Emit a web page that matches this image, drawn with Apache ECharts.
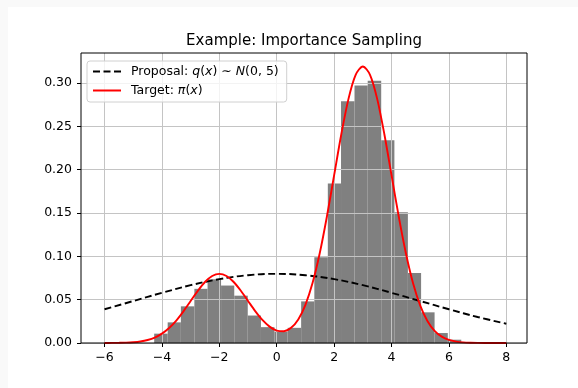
<!DOCTYPE html>
<html>
<head>
<meta charset="utf-8">
<script src="https://cdn.jsdelivr.net/npm/echarts@6/dist/echarts.min.js"></script>
<style>
  html, body { margin: 0; padding: 0; background: #fff; }
  #chart { width: 578px; height: 388px; }
</style>
</head>
<body>
<div id="chart"></div>
<script>
// histogram bins (edges) and heights
var binEdges = [-4.27, -3.80, -3.34, -2.87, -2.41, -1.94, -1.48, -1.01, -0.55, -0.08,
    0.38, 0.85, 1.31, 1.78, 2.24, 2.71, 3.17, 3.64, 4.10, 4.57, 5.03, 5.50, 5.96, 6.43];
var binHeights = [0.0108, 0.0238, 0.0423, 0.0625, 0.0735, 0.0663, 0.0546, 0.0317, 0.0183, 0.0130,
    0.0175, 0.0480, 0.0988, 0.1840, 0.2790, 0.2970, 0.3027, 0.2340, 0.1510, 0.0808,
    0.0354, 0.0115, 0.0038];

// proposal q(x), dashed
var proposalX = [-6, -5, -4, -3, -2, -1, 0, 1, 2, 3, 4, 5, 6, 7, 8];
var proposalY = [0.0389, 0.0484, 0.0579, 0.0667, 0.0737, 0.0782, 0.0798, 0.0782, 0.0737, 0.0667,
    0.0579, 0.0484, 0.0389, 0.0300, 0.0222];

// target pi(x), red
var targetX = [-6, -5.75, -5.5, -5.25, -5, -4.75, -4.5, -4.25, -4, -3.75, -3.5, -3.25, -3, -2.75,
    -2.5, -2.25, -2, -1.75, -1.5, -1.25, -1, -0.75, -0.5, -0.25, 0, 0.25, 0.5, 0.75, 1, 1.25,
    1.5, 1.75, 2, 2.25, 2.5, 2.75, 3, 3.25, 3.5, 3.75, 4, 4.25, 4.5, 4.75, 5, 5.25, 5.5, 5.75,
    6, 6.25, 6.5, 6.75, 7, 7.25, 7.5, 7.75, 8];
var targetY = [0.0000, 0.0001, 0.0002, 0.0004, 0.0009, 0.0018, 0.0035, 0.0063, 0.0108, 0.0173,
    0.0259, 0.0365, 0.0484, 0.0602, 0.0704, 0.0773, 0.0798, 0.0773, 0.0704, 0.0603,
    0.0485, 0.0368, 0.0266, 0.0189, 0.0143, 0.0136, 0.0175, 0.0272, 0.0441, 0.0694,
    0.1038, 0.1462, 0.1936, 0.2409, 0.2817, 0.3094, 0.3191, 0.3094, 0.2817, 0.2409,
    0.1936, 0.1461, 0.1036, 0.0690, 0.0432, 0.0254, 0.0140, 0.0073, 0.0035, 0.0016,
    0.0007, 0.0003, 0.0001, 0.0000, 0.0000, 0.0000, 0.0000];

var xTicks = [-6, -4, -2, 0, 2, 4, 6, 8];
var yTicks = [0, 0.05, 0.10, 0.15, 0.20, 0.25, 0.30];

var FONT = 'DejaVu Sans';

var bars = [];
for (var i = 0; i < binHeights.length; i++) {
    bars.push([binEdges[i], binEdges[i + 1], binHeights[i]]);
}
function pairs(xs, ys) {
    return xs.map(function (x, k) { return [x, ys[k]]; });
}

var chart = echarts.init(document.getElementById('chart'));

var option = {
    backgroundColor: '#ffffff',
    animation: false,
    textStyle: { fontFamily: FONT },
    graphic: [
        { type: 'rect', shape: { x: 0, y: 0, width: 8, height: 388 }, style: { fill: '#f9f9f9' }, silent: true, z: -10 },
        { type: 'rect', shape: { x: 0, y: 0, width: 578, height: 7 }, style: { fill: '#f9f9f9' }, silent: true, z: -10 },
        {
            type: 'text', x: 304, y: 41, z: 10,
            style: {
                text: 'Example: Importance Sampling',
                fontFamily: FONT, fontSize: 15, fill: '#000',
                textAlign: 'center', textVerticalAlign: 'middle'
            }
        }
    ],
    grid: {
        left: 81, right: 51, top: 53, bottom: 45,
        show: true, borderColor: '#000', borderWidth: 1, z: 6,
        backgroundColor: 'transparent'
    },
    legend: {
        orient: 'vertical',
        left: 87, top: 61,
        padding: [4, 8, 5, 5],
        itemWidth: 28, itemHeight: 14, itemGap: 6,
        backgroundColor: 'rgba(255,255,255,0.8)',
        borderColor: '#d0d0d0', borderWidth: 1, borderRadius: 3,
        z: 10,
        itemStyle: { opacity: 0 },
        data: ['proposal', 'target'],
        formatter: function (name) {
            if (name === 'proposal') return 'Proposal: {i|q}({i|x}) ∼ {i|N}(0, 5)';
            return 'Target: {i|π}({i|x})';
        },
        textStyle: {
            fontFamily: FONT, fontSize: 12.5, color: '#000', padding: [0, 0, 0, 5],
            rich: { i: { fontFamily: FONT, fontSize: 12.5, fontStyle: 'italic', color: '#000' } }
        }
    },
    xAxis: {
        type: 'value', min: -6.82, max: 8.72, z: 3,
        axisLine: { show: false, onZero: false },
        axisTick: { show: true, length: 4, lineStyle: { color: '#000' }, customValues: xTicks },
        axisLabel: {
            customValues: xTicks, margin: 8, color: '#000', fontFamily: FONT, fontSize: 12.5,
            formatter: function (v) { return String(v).replace('-', '\u2212'); }
        },
        splitLine: { show: true, lineStyle: { color: '#c4c4c4', width: 1 } }
    },
    yAxis: {
        type: 'value', min: 0, max: 0.3346, z: 3,
        axisLine: { show: false, onZero: false },
        axisTick: { show: true, length: 4, lineStyle: { color: '#000' }, customValues: yTicks },
        axisLabel: {
            customValues: yTicks, margin: 9, color: '#000', fontFamily: FONT, fontSize: 12.5,
            formatter: function (v) { return v.toFixed(2); }
        },
        splitLine: { show: true, lineStyle: { color: '#c4c4c4', width: 1 } }
    },
    series: [
        {
            name: 'hist',
            type: 'custom',
            z: 2,
            encode: { x: [0, 1], y: 2 },
            data: bars,
            renderItem: function (params, api) {
                var p0 = api.coord([api.value(0), api.value(2)]);
                var p1 = api.coord([api.value(1), 0]);
                return {
                    type: 'rect',
                    shape: { x: p0[0], y: p0[1], width: p1[0] - p0[0], height: p1[1] - p0[1] },
                    style: { fill: '#808080' }
                };
            }
        },
        {
            name: 'proposal',
            type: 'line',
            z: 5,
            smooth: 0.4,
            symbol: 'none',
            data: pairs(proposalX, proposalY),
            lineStyle: { color: '#000', width: 1.9, type: [7, 3.5] },
            itemStyle: { color: '#000' }
        },
        {
            name: 'target',
            type: 'line',
            z: 5,
            smooth: 0.3,
            symbol: 'none',
            data: pairs(targetX, targetY),
            lineStyle: { color: '#ff0000', width: 1.9 },
            itemStyle: { color: '#ff0000' }
        }
    ]
};

chart.setOption(option);
</script>
</body>
</html>
